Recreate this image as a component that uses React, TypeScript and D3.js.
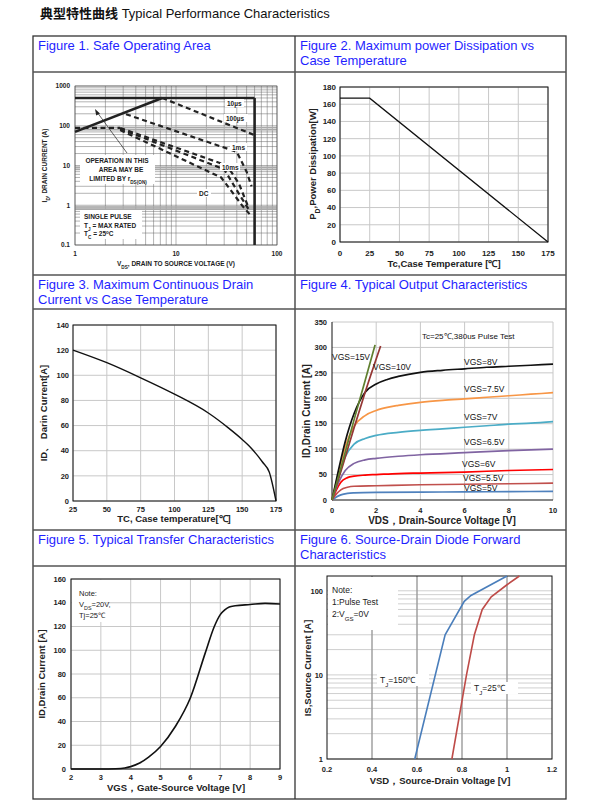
import React from 'react';
import * as d3 from 'd3';

type Pt = [number, number];

// ---------------- DATA ----------------
// Figure 1 – Safe Operating Area (log-log)
const soaXTicks = [1, 10, 100];
const soaYTicks = [0.1, 1, 10, 100, 1000];
const soaRdsLimit: Pt[] = [[1, 70], [7.3, 500]];
const soaCurrentLimit: Pt[] = [[1, 500], [60, 500]];
const soaVoltageLimit: Pt[] = [[60, 500], [60, 0.1]];
const soa100us: Pt[] = [[7.3, 500], [60, 58]];
const soa1ms: Pt[] = [[3.2, 195], [40, 22], [50, 7], [56, 3]];
const soaPkgLimit: Pt[] = [[1, 88], [2.8, 88]];
const soa10ms: Pt[] = [[2.8, 88], [32, 10], [42, 3.5], [52, 0.9]];
const soa10msB: Pt[] = [[2.8, 84], [30, 8], [44, 1.6], [54, 0.7]];
const soaDC: Pt[] = [[2.8, 78], [28, 5], [45, 1.0], [55, 0.55]];

// Figure 2 – Power dissipation
const pdTemp = [0, 25, 175];
const pdPower = [167, 167, 0];
const pdXTicks = [0, 25, 50, 75, 100, 125, 150, 175];
const pdYTicks = [0, 20, 40, 60, 80, 100, 120, 140, 160, 180];

// Figure 3 – Continuous drain current
const idTemp = [25, 50, 75, 100, 125, 140, 150, 155, 165, 170, 175];
const idCurrent = [120, 110, 98, 85, 70, 58, 49, 44, 31, 23, 0];
const idXTicks = [25, 50, 75, 100, 125, 150, 175];
const idYTicks = [0, 20, 40, 60, 80, 100, 120, 140];

// Figure 4 – Output characteristics
const outXTicks = [0, 2, 4, 6, 8, 10];
const outYTicks = [0, 50, 100, 150, 200, 250, 300, 350];
const vgs15: Pt[] = [[0, 0], [0.5, 78], [1, 158], [1.5, 235], [1.95, 305]];
const vgs10: Pt[] = [[0, 0], [0.5, 70], [1, 142], [1.5, 212], [2.2, 303]];
const vgs8: Pt[] = [[0, 0], [0.3, 60], [0.6, 115], [1, 170], [1.5, 212], [2, 228], [2.5, 237], [3, 243], [4, 251], [5, 255], [6, 258], [7, 261], [8, 263], [9, 265], [10, 267]];
const vgs75: Pt[] = [[0, 0], [0.3, 55], [0.6, 105], [1, 145], [1.5, 166], [2, 176], [2.5, 182], [3, 186], [4, 192], [5, 196], [6, 199], [7, 202], [8, 205], [9, 208], [10, 211]];
const vgs7: Pt[] = [[0, 0], [0.3, 45], [0.6, 85], [1, 110], [1.5, 121], [2, 127], [3, 133], [4, 137], [5, 140], [6, 143], [7, 146], [8, 149], [9, 151], [10, 154]];
const vgs65: Pt[] = [[0, 0], [0.3, 35], [0.6, 58], [1, 72], [1.5, 79], [2, 82], [3, 86], [4, 89], [6, 93], [8, 97], [10, 100]];
const vgs6: Pt[] = [[0, 0], [0.2, 20], [0.4, 35], [0.7, 44], [1, 47], [1.5, 49], [2, 50], [3, 52], [4, 53], [6, 55], [8, 58], [10, 60]];
const vgs55: Pt[] = [[0, 0], [0.2, 12], [0.4, 20], [0.7, 25], [1, 27], [2, 28], [4, 30], [6, 31], [8, 32], [10, 33]];
const vgs5: Pt[] = [[0, 0], [0.2, 6], [0.4, 10], [0.7, 13], [1, 14], [2, 15], [4, 15.5], [6, 16], [8, 16.5], [10, 17]];

// Figure 5 – Transfer characteristics
const vgsT = [2, 3, 3.5, 3.8, 4, 4.3, 4.6, 5, 5.5, 6, 6.5, 6.8, 7, 7.15, 7.3, 7.5, 8, 8.5, 9];
const idT = [0, 0, 0.2, 0.8, 2, 5, 10, 19, 36, 60, 98, 120, 130, 134, 136.5, 137.5, 138.5, 139.5, 139];
const trXTicks = [2, 3, 4, 5, 6, 7, 8, 9];
const trYTicks = [0, 20, 40, 60, 80, 100, 120, 140, 160];

// Figure 6 – Source-drain diode forward
const vsd150 = [0.59, 0.725, 0.81, 0.84, 1.0];
const is150 = [1, 30, 75, 88, 150];
const vsd25 = [0.755, 0.82, 0.855, 0.89, 0.93, 1.0, 1.055];
const is25 = [1, 10, 30, 60, 85, 118, 150];
const sdXTicks = [0.2, 0.4, 0.6, 0.8, 1.0, 1.2];
const sdYTicks = [1, 10, 100];

// ---------------- STYLE ----------------
const FONT = "'Liberation Sans', Arial, sans-serif";
const CJK = "'Noto Sans CJK SC', sans-serif";
const BLUE = '#1f1fff';

const pts = (xs: number[], ys: number[]): Pt[] => xs.map((v, i) => [v, ys[i]]);

const Sub = ({ children }: { children: React.ReactNode }) => (
  <tspan baselineShift="sub" fontSize="0.72em">{children}</tspan>
);
const Sup = ({ children }: { children: React.ReactNode }) => (
  <tspan baselineShift="super" fontSize="0.7em">{children}</tspan>
);

function logMinors(lo: number, hi: number): number[] {
  const out: number[] = [];
  for (let d = lo; d < hi; d *= 10) {
    for (let k = 1; k < 10; k++) out.push(+(k * d).toPrecision(3));
  }
  out.push(hi);
  return out;
}

// ---------------- FIGURE 1 ----------------
function Fig1() {
  const x = d3.scaleLog().domain([1, 100]).range([75, 277]);
  const y = d3.scaleLog().domain([0.1, 1000]).range([245, 86]);
  const line = d3.line<Pt>().x(d => x(d[0])).y(d => y(d[1]));
  const xs = logMinors(1, 100);
  const ys = logMinors(0.1, 1000);
  const dash = { fill: 'none', stroke: '#222', strokeWidth: 2.2, strokeDasharray: '5,3.5' };
  const lab = { fontFamily: FONT, fontWeight: 700, fontSize: 6.5, fill: '#222' } as const;
  return (
    <g>
      {xs.map((v, i) => (
        <line key={'x' + i} x1={x(v)} x2={x(v)} y1={y(0.1)} y2={y(1000)} stroke="#666" strokeWidth={0.5} />
      ))}
      {ys.map((v, i) => (
        <line key={'y' + i} x1={x(1)} x2={x(100)} y1={y(v)} y2={y(v)} stroke="#666" strokeWidth={0.5} />
      ))}
      {[0.8, 0.9, 8, 9, 80, 90].map((v, i) => (
        <line key={'b' + i} x1={x(1)} x2={x(100)} y1={y(v)} y2={y(v)} stroke="#aaa" strokeWidth={1.6} />
      ))}
      <rect x={x(1)} y={y(1000)} width={x(100) - x(1)} height={y(0.1) - y(1000)} fill="none" stroke="#444" strokeWidth={0.6} />
      <path d={line(soaRdsLimit)!} fill="none" stroke="#222" strokeWidth={2.6} />
      <path d={line(soaCurrentLimit)!} fill="none" stroke="#222" strokeWidth={2.6} />
      <path d={line(soaVoltageLimit)!} fill="none" stroke="#222" strokeWidth={2.6} />
      <path d={line(soa100us)!} {...dash} />
      <path d={line(soa1ms)!} {...dash} />
      <path d={line(soaPkgLimit)!} {...dash} />
      <path d={line(soa10ms)!} {...dash} />
      <path d={line(soa10msB)!} {...dash} />
      <path d={line(soaDC)!} {...dash} />

      {/* labels */}
      <rect x={225} y={99} width={19} height={8} fill="#fff" />
      <text x={227} y={106} {...lab}>10µs</text>
      <rect x={224} y={114} width={24} height={8} fill="#fff" />
      <text x={226} y={121} {...lab}>100µs</text>
      <rect x={230} y={143} width={17} height={8} fill="#fff" />
      <text x={232} y={150} {...lab}>1ms</text>
      <rect x={220} y={163} width={20} height={8} fill="#fff" />
      <text x={222} y={170} {...lab}>10ms</text>
      <rect x={197} y={189} width={14} height={8} fill="#fff" />
      <text x={199} y={196} {...lab}>DC</text>

      <rect x={80} y={155} width={75} height={29} fill="#fff" />
      <text x={117} y={163} textAnchor="middle" {...lab}>OPERATION IN THIS</text>
      <text x={121} y={172} textAnchor="middle" {...lab}>AREA MAY BE</text>
      <text x={118} y={181} textAnchor="middle" {...lab}>LIMITED BY r<Sub>DS(ON)</Sub></text>

      <rect x={80} y={210} width={62} height={29} fill="#fff" />
      <text x={84} y={219} {...lab}>SINGLE PULSE</text>
      <text x={84} y={227.5} {...lab}>T<Sub>J</Sub> = MAX RATED</text>
      <text x={84} y={236} {...lab}>T<Sub>C</Sub> = 25<Sup>o</Sup>C</text>

      <line x1={127} y1={153} x2={97} y2={112} stroke="#222" strokeWidth={0.7} />
      <path d="M95,109 L96.2,115.5 L100,113.4 Z" fill="#222" />

      {soaYTicks.map(v => (
        <text key={v} x={70} y={y(v) + 2.3} textAnchor="end" {...lab}>{v}</text>
      ))}
      {soaXTicks.map(v => (
        <text key={v} x={x(v)} y={256} textAnchor="middle" {...lab}>{v}</text>
      ))}
      <text x={176} y={266} textAnchor="middle" {...lab}>V<Sub>DS</Sub>, DRAIN TO SOURCE VOLTAGE (V)</text>
      <text transform={`translate(47,${(y(0.1) + y(1000)) / 2}) rotate(-90)`} textAnchor="middle" {...lab}>
        I<Sub>D</Sub>, DRAIN CURRENT (A)
      </text>
    </g>
  );
}

// ---------------- generic linear grid ----------------
function LinGrid({ x, y, xt, yt, color = '#c8c8c8', w = 1 }: any) {
  const [x0, x1] = x.range();
  const [y0, y1] = y.range();
  return (
    <g>
      {xt.map((v: number, i: number) => (
        <line key={'gx' + i} x1={x(v)} x2={x(v)} y1={y0} y2={y1} stroke={color} strokeWidth={w} />
      ))}
      {yt.map((v: number, i: number) => (
        <line key={'gy' + i} x1={x0} x2={x1} y1={y(v)} y2={y(v)} stroke={color} strokeWidth={w} />
      ))}
    </g>
  );
}

function TickLabels({ x, y, xt, yt, xLabelY, yLabelX, size = 8, fmt = (v: number) => String(v) }: any) {
  const t = { fontFamily: FONT, fontWeight: 700, fontSize: size, fill: '#222' } as const;
  return (
    <g>
      {xt.map((v: number, i: number) => (
        <text key={'tx' + i} x={x(v)} y={xLabelY} textAnchor="middle" {...t}>{fmt(v)}</text>
      ))}
      {yt.map((v: number, i: number) => (
        <text key={'ty' + i} x={yLabelX} y={y(v) + size * 0.36} textAnchor="end" {...t}>{fmt(v)}</text>
      ))}
    </g>
  );
}

// ---------------- FIGURE 2 ----------------
function Fig2() {
  const x = d3.scaleLinear().domain([0, 175]).range([340, 548]);
  const y = d3.scaleLinear().domain([0, 180]).range([242, 87]);
  const line = d3.line<Pt>().x(d => x(d[0])).y(d => y(d[1]));
  const t = { fontFamily: FONT, fontWeight: 700, fontSize: 9.5, fill: '#222' } as const;
  return (
    <g>
      <LinGrid x={x} y={y} xt={pdXTicks} yt={pdYTicks} />
      <rect x={340} y={87} width={208} height={155} fill="none" stroke="#111" strokeWidth={1} />
      <path d={line(pts(pdTemp, pdPower))!} fill="none" stroke="#111" strokeWidth={1.3} />
      <TickLabels x={x} y={y} xt={pdXTicks} yt={pdYTicks} xLabelY={256} yLabelX={336} size={8} />
      <text x={444} y={267} textAnchor="middle" {...t}>Tc,Case Temperature [℃]</text>
      <text transform="translate(316,164) rotate(-90)" textAnchor="middle" {...t}>
        P<Sub>D</Sub>,Power Dissipation[W]
      </text>
    </g>
  );
}

// ---------------- FIGURE 3 ----------------
function Fig3() {
  const x = d3.scaleLinear().domain([25, 175]).range([73, 276]);
  const y = d3.scaleLinear().domain([0, 140]).range([501, 325]);
  const line = d3.line<Pt>().x(d => x(d[0])).y(d => y(d[1])).curve(d3.curveMonotoneX);
  const t = { fontFamily: FONT, fontWeight: 700, fontSize: 9.5, fill: '#222' } as const;
  return (
    <g>
      <LinGrid x={x} y={y} xt={idXTicks} yt={idYTicks} />
      <rect x={73} y={325} width={203} height={176} fill="none" stroke="#111" strokeWidth={1} />
      <path d={line(pts(idTemp, idCurrent))!} fill="none" stroke="#111" strokeWidth={1.4} />
      <TickLabels x={x} y={y} xt={idXTicks} yt={idYTicks} xLabelY={512} yLabelX={69} size={7.5} />
      <text x={174} y={522} textAnchor="middle" {...t}>TC, Case temperature[℃]</text>
      <text transform="translate(47,413) rotate(-90)" textAnchor="middle" {...t}>ID、 Darin Current[A]</text>
    </g>
  );
}

// ---------------- FIGURE 4 ----------------
function Fig4() {
  const x = d3.scaleLinear().domain([0, 10]).range([332, 553]);
  const y = d3.scaleLinear().domain([0, 350]).range([500, 322]);
  const line = d3.line<Pt>().x(d => x(d[0])).y(d => y(d[1])).curve(d3.curveMonotoneX);
  const t = { fontFamily: FONT, fontWeight: 700, fontSize: 10, fill: '#222' } as const;
  const lab = { fontFamily: FONT, fontSize: 8.5, fill: '#111' } as const;
  const series: [Pt[], string][] = [
    [vgs5, '#4f81bd'], [vgs55, '#c0504d'], [vgs6, '#ff0000'], [vgs65, '#8064a2'],
    [vgs7, '#4bacc6'], [vgs75, '#f79646'], [vgs8, '#111'], [vgs10, '#953735'], [vgs15, '#5f7f2f'],
  ];
  return (
    <g>
      <LinGrid x={x} y={y} xt={outXTicks.slice(1)} yt={outYTicks.slice(1)} color="#c8c8c8" />
      <line x1={332} x2={332} y1={322} y2={500} stroke="#111" strokeWidth={1} />
      <line x1={332} x2={553} y1={500} y2={500} stroke="#111" strokeWidth={1} />
      {series.map(([d, c], i) => (
        <path key={i} d={line(d)!} fill="none" stroke={c} strokeWidth={1.7} />
      ))}
      <text x={422} y={339} {...lab} fontSize={8}>Tc=25℃,380us Pulse Test</text>
      <text x={332} y={360} {...lab}>VGS=15V</text>
      <text x={373} y={370} {...lab}>VGS=10V</text>
      <text x={464} y={365} {...lab}>VGS=8V</text>
      <text x={464} y={392} {...lab}>VGS=7.5V</text>
      <text x={464} y={420} {...lab}>VGS=7V</text>
      <text x={464} y={445} {...lab}>VGS=6.5V</text>
      <text x={462} y={467} {...lab}>VGS=6V</text>
      <text x={463} y={481} {...lab}>VGS=5.5V</text>
      <text x={464} y={491} {...lab}>VGS=5V</text>
      <TickLabels x={x} y={y} xt={outXTicks} yt={outYTicks} xLabelY={513} yLabelX={327} size={7.5} />
      <text x={442} y={524} textAnchor="middle" {...t}>VDS，Drain-Source Voltage [V]</text>
      <text transform="translate(310,411) rotate(-90)" textAnchor="middle" {...t}>ID,Drain Current [A]</text>
    </g>
  );
}

// ---------------- FIGURE 5 ----------------
function Fig5() {
  const x = d3.scaleLinear().domain([2, 9]).range([71, 280]);
  const y = d3.scaleLinear().domain([0, 160]).range([769, 579]);
  const line = d3.line<Pt>().x(d => x(d[0])).y(d => y(d[1])).curve(d3.curveMonotoneX);
  const t = { fontFamily: FONT, fontWeight: 700, fontSize: 9.5, fill: '#222' } as const;
  const n = { fontFamily: FONT, fontSize: 7.5, fill: '#222' } as const;
  return (
    <g>
      <LinGrid x={x} y={y} xt={trXTicks} yt={trYTicks} />
      <rect x={72} y={580} width={34} height={42} fill="#fff" />
      <rect x={71} y={579} width={209} height={190} fill="none" stroke="#111" strokeWidth={1} />
      <path d={line(pts(vgsT, idT))!} fill="none" stroke="#111" strokeWidth={1.6} />
      <text x={79} y={596} {...n}>Note:</text>
      <text x={79} y={607} {...n}>V<Sub>DS</Sub>=20V,</text>
      <text x={79} y={618} {...n}>Tj=25℃</text>
      <TickLabels x={x} y={y} xt={trXTicks} yt={trYTicks} xLabelY={780} yLabelX={66} size={7.5} />
      <text x={176} y={791} textAnchor="middle" {...t}>VGS，Gate-Source Voltage [V]</text>
      <text transform="translate(45,674) rotate(-90)" textAnchor="middle" {...t}>ID,Drain Current [A]</text>
    </g>
  );
}

// ---------------- FIGURE 6 ----------------
function Fig6() {
  const x = d3.scaleLinear().domain([0.2, 1.2]).range([327, 552]);
  const y = d3.scaleLog().domain([1, 150]).range([759, 576]);
  const line = d3.line<Pt>().x(d => x(d[0])).y(d => y(d[1]));
  const t = { fontFamily: FONT, fontWeight: 700, fontSize: 9.5, fill: '#222' } as const;
  const n = { fontFamily: FONT, fontSize: 8.5, fill: '#222' } as const;
  const minors = logMinors(1, 100).filter(v => v <= 150);
  return (
    <g>
      {minors.map((v, i) => (
        <line key={'m' + i} x1={327} x2={552} y1={y(v)} y2={y(v)} stroke="#cfcfcf" strokeWidth={1} />
      ))}
      {sdXTicks.slice(1, -1).map((v, i) => (
        <line key={'v' + i} x1={x(v)} x2={x(v)} y1={576} y2={759} stroke="#9a9a9a" strokeWidth={1.4} />
      ))}
      <rect x={328} y={577} width={70} height={53} fill="#fff" />
      <rect x={327} y={576} width={225} height={183} fill="none" stroke="#111" strokeWidth={1} />
      <path d={line(pts(vsd150, is150))!} fill="none" stroke="#4a7ebb" strokeWidth={1.6} />
      <path d={line(pts(vsd25, is25))!} fill="none" stroke="#be4b48" strokeWidth={1.6} />
      <text x={332} y={593} {...n}>Note:</text>
      <text x={332} y={605} {...n}>1:Pulse Test</text>
      <text x={332} y={617} {...n}>2:V<Sub>GS</Sub>=0V</text>
      <rect x={377} y={674} width={52} height={12} fill="#fff" />
      <text x={380} y={683} {...n}>T<Sub>J</Sub>=150℃</text>
      <rect x={471} y={682} width={47} height={12} fill="#fff" />
      <text x={474} y={691} {...n}>T<Sub>J</Sub>=25℃</text>
      <TickLabels x={x} y={y} xt={sdXTicks} yt={sdYTicks} xLabelY={772} yLabelX={323} size={7.5}
        fmt={(v: number) => (v < 2 && v !== 1 ? v.toFixed(1) : v === 1 && sdYTicks.includes(v) ? '1' : String(v))} />
      <text x={440} y={784} textAnchor="middle" {...t}>VSD，Source-Drain Voltage [V]</text>
      <text transform="translate(311,668) rotate(-90)" textAnchor="middle" {...t}>IS,Source Current [A]</text>
    </g>
  );
}

// ---------------- APP ----------------
export default function App() {
  const tf = { fontFamily: FONT, fontSize: 13, fill: BLUE } as const;
  const border = '#333';
  return (
    <svg width={608} height={810} viewBox="0 0 608 810"
      style={{ position: 'absolute', left: 0, top: 0, background: '#fff' }}>
      <rect x={0} y={0} width={608} height={810} fill="#fff" />
      <text x={40} y={18} fontSize={13} fill="#111">
        <tspan fontFamily={CJK} fontWeight={700}>典型特性曲线</tspan>
        <tspan fontFamily={FONT}> Typical Performance Characteristics</tspan>
      </text>

      {/* table */}
      <rect x={33} y={36} width={533} height={763} fill="none" stroke={border} strokeWidth={1.3} />
      <line x1={295} x2={295} y1={36} y2={799} stroke={border} strokeWidth={1.3} />
      {[72, 275, 309, 530, 566].map(v => (
        <line key={v} x1={33} x2={566} y1={v} y2={v} stroke="#555" strokeWidth={1.5} />
      ))}

      <text x={38} y={50} {...tf}>Figure 1. Safe Operating Area</text>
      <text x={300} y={50} {...tf}>Figure 2. Maximum power Dissipation vs</text>
      <text x={300} y={65} {...tf}>Case Temperature</text>
      <text x={38} y={289} {...tf}>Figure 3. Maximum Continuous Drain</text>
      <text x={38} y={304} {...tf}>Current vs Case Temperature</text>
      <text x={300} y={289} {...tf}>Figure 4. Typical Output Characteristics</text>
      <text x={38} y={544} {...tf}>Figure 5. Typical Transfer Characteristics</text>
      <text x={300} y={544} {...tf}>Figure 6. Source-Drain Diode Forward</text>
      <text x={300} y={559} {...tf}>Characteristics</text>

      <Fig1 />
      <Fig2 />
      <Fig3 />
      <Fig4 />
      <Fig5 />
      <Fig6 />
    </svg>
  );
}
